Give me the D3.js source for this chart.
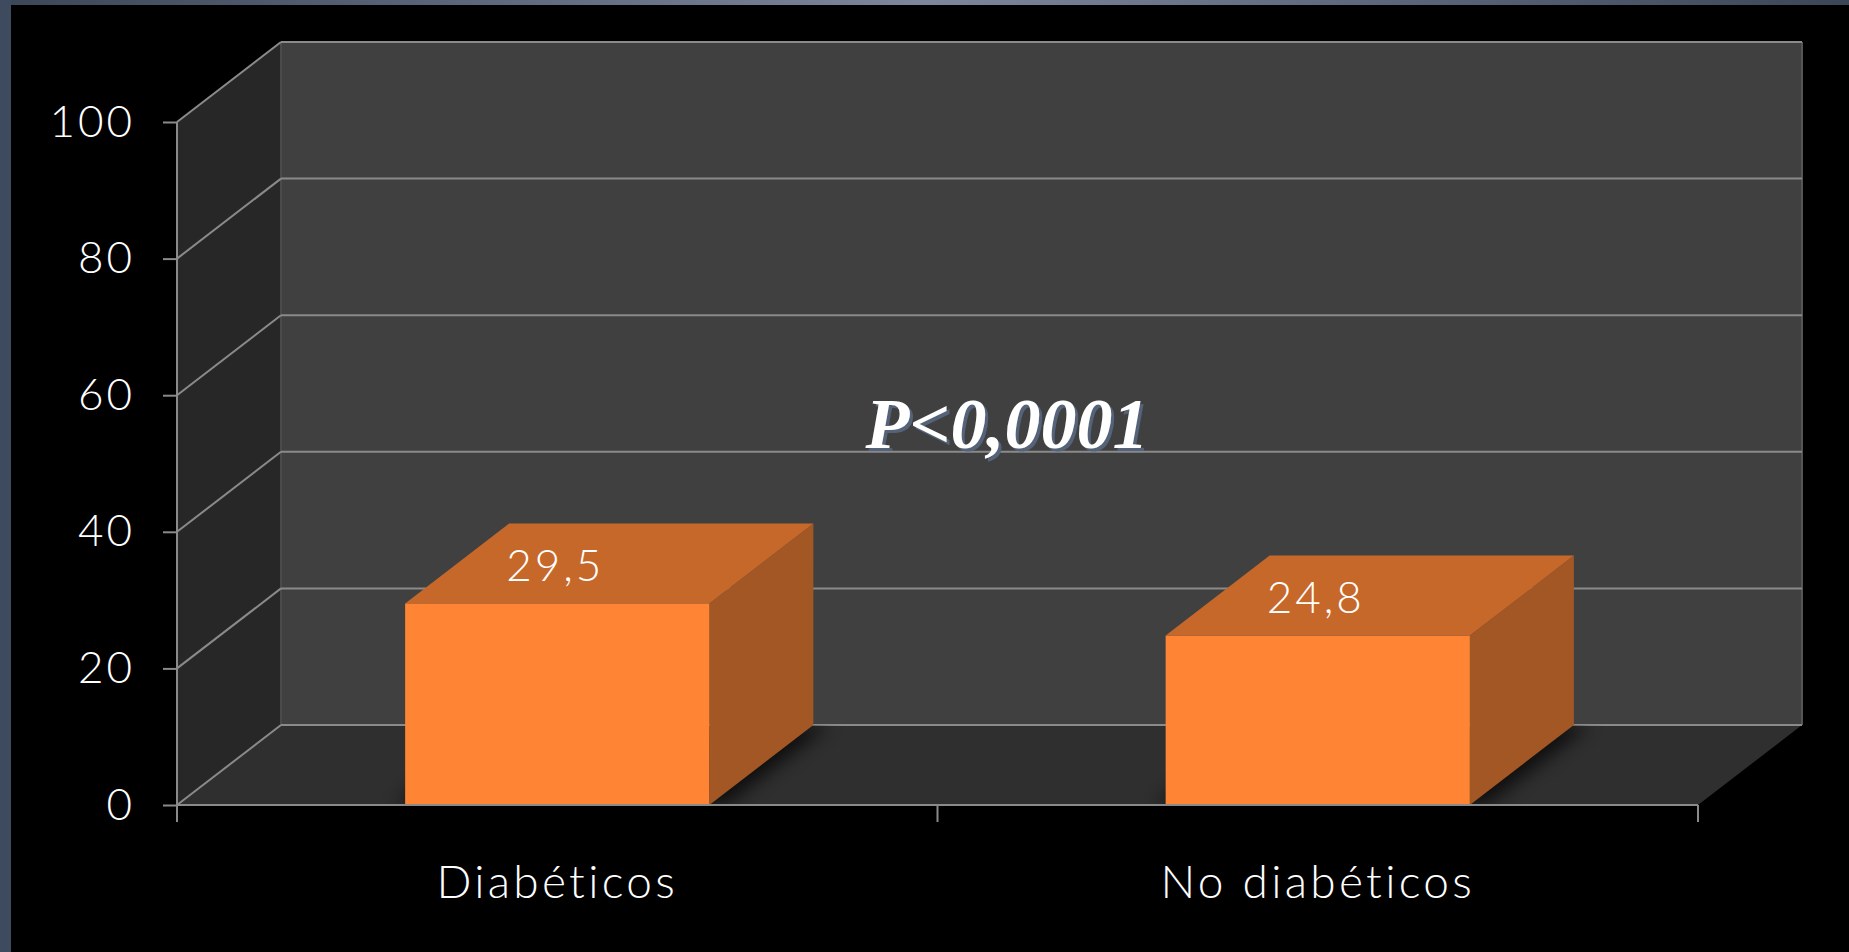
<!DOCTYPE html>
<head>
  <meta charset="utf-8" />
  <script src="https://d3js.org/d3.v7.min.js"></script>
  <style>
    body {
      margin: 0;
      background: #000;
      overflow: hidden;
    }
    text {
      font-family: Lato, "Open Sans", sans-serif;
      font-weight: 300;
    }
  </style>
</head>

<body>
<div id="chart"></div>

<script>

// data
var categories = ["Diabéticos", "No diabéticos"];
var values = [29.5, 24.8];
var valueLabels = ["29,5", "24,8"];
var yTicks = [0, 20, 40, 60, 80, 100];
var pLabel = "P<0,0001";

var W = 1849, H = 952;
var margin = {top: 122, left: 177},
    width = 1521,
    height = 683;
// 3d depth offset of the walls / bars
var depth = {x: 104, y: 80};

var gridColor = "#8a8a8a";

var root = d3.select("#chart")
  .append("svg")
  .attr("width", W)
  .attr("height", H);

// frame: black slide with blue-grey border on top and left
var defs = root.append("defs");
var grad = defs.append("linearGradient").attr("id", "topGrad");
grad.append("stop").attr("offset", "0%").attr("stop-color", "#3c4659");
grad.append("stop").attr("offset", "50%").attr("stop-color", "#7d869b");
grad.append("stop").attr("offset", "100%").attr("stop-color", "#3c4659");

var blur = defs.append("filter").attr("id", "shadowBlur")
  .attr("x", "-20%").attr("y", "-20%").attr("width", "140%").attr("height", "140%");
blur.append("feGaussianBlur").attr("stdDeviation", 9);

root.append("rect").attr("width", W).attr("height", H).attr("fill", "#000");
root.append("rect").attr("width", W).attr("height", 5).attr("fill", "url(#topGrad)");
root.append("rect").attr("width", 11).attr("height", H).attr("fill", "#3e4a5e");

var svg = root.append("g")
  .attr("transform", "translate(" + margin.left + "," + margin.top + ")");

var y = d3.scaleLinear()
  .domain([0, 100])
  .range([height, 0]);

var x = d3.scaleBand()
  .domain(categories)
  .range([0, width])
  .paddingInner(0.6)
  .paddingOuter(0.3);

var y0 = y(0), yTop = y(100);

function pts(arr) { return arr.map(function(p) { return p.join(","); }).join(" "); }

// back wall
svg.append("polygon")
  .attr("points", pts([[depth.x, yTop - depth.y], [width + depth.x, yTop - depth.y],
                       [width + depth.x, y0 - depth.y], [depth.x, y0 - depth.y]]))
  .attr("fill", "#404040");

// side wall
svg.append("polygon")
  .attr("points", pts([[0, yTop], [depth.x, yTop - depth.y], [depth.x, y0 - depth.y], [0, y0]]))
  .attr("fill", "#272727");

// floor
svg.append("polygon")
  .attr("points", pts([[0, y0], [depth.x, y0 - depth.y], [width + depth.x, y0 - depth.y], [width, y0]]))
  .attr("fill", "#2f2f2f");

// edges of the walls
svg.append("line")
  .attr("x1", depth.x).attr("x2", depth.x)
  .attr("y1", yTop - depth.y).attr("y2", y0 - depth.y)
  .attr("stroke", "#4a4a4a").attr("stroke-width", 2);
svg.append("line")
  .attr("x1", width + depth.x).attr("x2", width + depth.x)
  .attr("y1", yTop - depth.y).attr("y2", y0 - depth.y)
  .attr("stroke", "#555").attr("stroke-width", 2);

// gridlines: diagonal on side wall + horizontal on back wall
var grid = svg.append("g");
grid.selectAll(".diag")
  .data(yTicks)
  .enter().append("line")
    .attr("x1", 0).attr("y1", function(d) { return y(d); })
    .attr("x2", depth.x).attr("y2", function(d) { return y(d) - depth.y; })
    .attr("stroke", gridColor).attr("stroke-width", 2);
grid.selectAll(".back")
  .data(yTicks)
  .enter().append("line")
    .attr("x1", depth.x).attr("y1", function(d) { return y(d) - depth.y; })
    .attr("x2", width + depth.x).attr("y2", function(d) { return y(d) - depth.y; })
    .attr("stroke", gridColor).attr("stroke-width", 2);

// soft shadows of the bars on the floor
var clip = defs.append("clipPath").attr("id", "floorClip");
clip.append("polygon")
  .attr("points", pts([[margin.left, margin.top + y0], [margin.left + depth.x, margin.top + y0 - depth.y],
                       [margin.left + width + depth.x, margin.top + y0 - depth.y], [margin.left + width, margin.top + y0]]));

var shadowG = svg.append("g")
  .attr("transform", "translate(" + (-margin.left) + "," + (-margin.top) + ")")
  .attr("clip-path", "url(#floorClip)")
  .append("g")
  .attr("transform", "translate(" + margin.left + "," + margin.top + ")");

shadowG.selectAll("polygon")
  .data(categories)
  .enter().append("polygon")
    .attr("points", function(d) {
      var x0 = x(d) - 10, x1 = x(d) + x.bandwidth() + 10;
      return pts([[x0, y0], [x0 + depth.x, y0 - depth.y], [x1 + depth.x + 6, y0 - depth.y], [x1 + 6, y0]]);
    })
    .attr("fill", "#000")
    .attr("opacity", 0.7)
    .attr("filter", "url(#shadowBlur)");

// bars
var bars = svg.append("g")
  .selectAll("g")
  .data(categories)
  .enter().append("g");

// right face
bars.append("polygon")
  .attr("points", function(d, i) {
    var x1 = x(d) + x.bandwidth(), yv = y(values[i]);
    return pts([[x1, yv], [x1 + depth.x, yv - depth.y], [x1 + depth.x, y0 - depth.y], [x1, y0]]);
  })
  .attr("fill", "#a35724");

// top face
bars.append("polygon")
  .attr("points", function(d, i) {
    var x0 = x(d), x1 = x(d) + x.bandwidth(), yv = y(values[i]);
    return pts([[x0, yv], [x0 + depth.x, yv - depth.y], [x1 + depth.x, yv - depth.y], [x1, yv]]);
  })
  .attr("fill", "#c7682b");

// front face
bars.append("rect")
  .attr("x", function(d) { return x(d); })
  .attr("y", function(d, i) { return y(values[i]); })
  .attr("width", x.bandwidth())
  .attr("height", function(d, i) { return y0 - y(values[i]); })
  .attr("fill", "#ff8534");

// value labels on top faces
bars.append("text")
  .attr("x", function(d) { return x(d) + x.bandwidth() / 2 - 2; })
  .attr("y", function(d, i) { return y(values[i]) - 23; })
  .attr("text-anchor", "middle")
  .style("fill", "#fff")
  .style("font-size", "44px")
  .style("letter-spacing", "3px")
  .text(function(d, i) { return valueLabels[i]; });

// front floor edge
svg.append("line")
  .attr("x1", 0).attr("x2", width)
  .attr("y1", y0).attr("y2", y0)
  .attr("stroke", gridColor).attr("stroke-width", 2);

// Y axis
var yAxis = svg.append("g")
  .call(d3.axisLeft(y).tickValues(yTicks).tickSize(14).tickPadding(28));
yAxis.select(".domain").remove();
yAxis.selectAll("line").attr("stroke", gridColor).attr("stroke-width", 2);
yAxis.selectAll("text")
  .style("fill", "#fff")
  .style("font-size", "44px")
  .style("letter-spacing", "3px")
  .style("font-family", "Lato, 'Open Sans', sans-serif");

svg.append("line")
  .attr("x1", 0).attr("x2", 0)
  .attr("y1", yTop).attr("y2", y0 + 17)
  .attr("stroke", gridColor).attr("stroke-width", 2);

// X axis: category labels at band centres, ticks at band edges
var xAxis = svg.append("g")
  .attr("transform", "translate(0," + y0 + ")")
  .call(d3.axisBottom(x).tickSize(0).tickPadding(60));
xAxis.select(".domain").remove();
xAxis.selectAll("text")
  .style("fill", "#fff")
  .style("font-size", "46px")
  .style("letter-spacing", "3.3px")
  .style("font-family", "Lato, 'Open Sans', sans-serif");

svg.append("g").selectAll("line")
  .data(d3.range(categories.length + 1))
  .enter().append("line")
    .attr("x1", function(i) { return i * x.step(); })
    .attr("x2", function(i) { return i * x.step(); })
    .attr("y1", y0).attr("y2", y0 + 17)
    .attr("stroke", gridColor).attr("stroke-width", 2);

// significance annotation
var pX = 830, pY = 326;
svg.append("text")
  .attr("x", pX + 3).attr("y", pY + 3)
  .attr("text-anchor", "middle")
  .style("font-family", "'Liberation Serif', 'Times New Roman', serif")
  .style("font-weight", "bold")
  .style("font-style", "italic")
  .style("font-size", "72px")
  .style("fill", "#55637a")
  .text(pLabel);
svg.append("text")
  .attr("x", pX).attr("y", pY)
  .attr("text-anchor", "middle")
  .style("font-family", "'Liberation Serif', 'Times New Roman', serif")
  .style("font-weight", "bold")
  .style("font-style", "italic")
  .style("font-size", "72px")
  .style("fill", "#fff")
  .text(pLabel);

</script>
</body>
</html>
